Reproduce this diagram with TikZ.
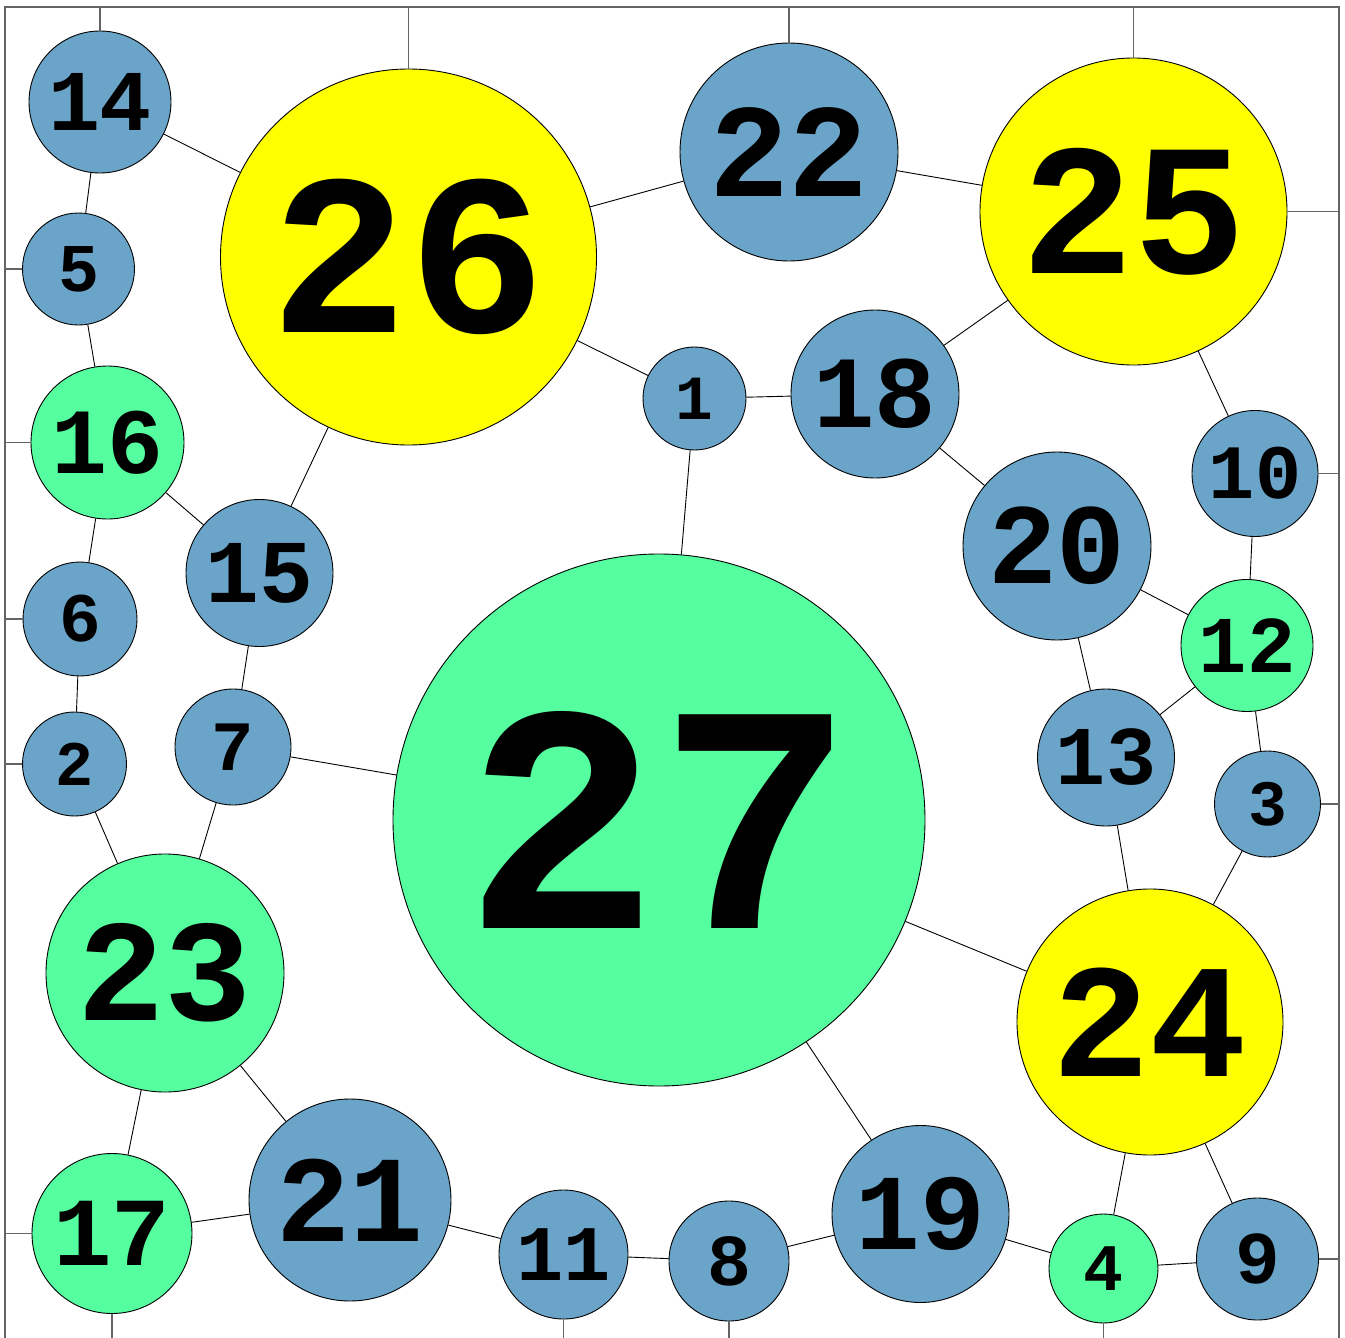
\documentclass[tikz,border=0pt]{standalone}
\usepackage{fontspec}
\newfontfamily\digitfont[BoldFont={Liberation Mono Bold}]{Liberation Mono}
\definecolor{nblue}{RGB}{107,164,201}
\definecolor{ngreen}{RGB}{85,255,160}
\definecolor{nyellow}{RGB}{255,255,0}
\definecolor{bgray}{RGB}{100,100,100}
\newcommand{\gnode}[5]{%
  \pgfmathsetmacro\myfs{1.22*#4}%
  \node[gn,fill=#5,minimum size=2*#4*1pt,font=\digitfont\bfseries\fontsize{\myfs pt}{\myfs pt}\selectfont] (n#1) at (#2,#3) {#1};}
\tikzset{
  gn/.style={circle,draw=black,line width=0.9pt,inner sep=0pt,text=black},
  link/.style={draw=black,line width=0.9pt},
  bound/.style={draw=bgray,line width=1.4pt},
}
\begin{document}
\begin{tikzpicture}[x=1pt,y=-1pt]
\useasboundingbox (0,0) rectangle (1345,1338);
\coordinate (T) at (0,7);
\coordinate (B) at (0,1342);
\coordinate (L) at (5,0);
\coordinate (R) at (1339,0);
\draw[bound] (5,7) rectangle (1339,1342);
% nodes
\gnode{14}{100}{102}{71}{nblue}
\gnode{26}{408.5}{257}{188}{nyellow}
\gnode{22}{789}{152}{109}{nblue}
\gnode{25}{1133.5}{211.5}{153.5}{nyellow}
\gnode{5}{78.5}{269}{56}{nblue}
\gnode{16}{107.5}{442.5}{76.5}{ngreen}
\gnode{1}{694.5}{398.5}{51.5}{nblue}
\gnode{18}{875}{394}{84}{nblue}
\gnode{10}{1255}{473.5}{63}{nblue}
\gnode{12}{1247}{645.5}{66}{ngreen}
\gnode{3}{1267.5}{804}{53}{nblue}
\gnode{20}{1057}{546}{94}{nblue}
\gnode{13}{1106}{757.5}{68.5}{nblue}
\gnode{15}{259.5}{573}{73.5}{nblue}
\gnode{6}{80}{619}{57}{nblue}
\gnode{2}{74.5}{764}{52}{nblue}
\gnode{7}{233}{747}{58}{nblue}
\gnode{27}{659}{820}{266}{ngreen}
\gnode{23}{165}{973}{119}{ngreen}
\gnode{24}{1150}{1022}{133}{nyellow}
\gnode{17}{112}{1233.5}{80}{ngreen}
\gnode{21}{350}{1200}{101}{nblue}
\gnode{11}{563.5}{1254.5}{64.5}{nblue}
\gnode{8}{729}{1261}{60}{nblue}
\gnode{19}{920.5}{1214}{88.5}{nblue}
\gnode{4}{1103.5}{1268.5}{54.5}{ngreen}
\gnode{9}{1257.5}{1259}{61}{nblue}
% links between nodes
\foreach \a/\b in {14/26,14/5,5/16,16/15,16/6,6/2,2/23,15/26,15/7,7/23,7/27,
  26/1,26/22,22/25,25/18,25/10,1/18,1/27,18/20,20/12,20/13,10/12,12/13,12/3,
  3/24,13/24,27/24,27/19,23/17,23/21,17/21,21/11,11/8,8/19,19/4,24/4,24/9,4/9}
  \draw[link] (n\a) -- (n\b);
% links to the frame
\foreach \n in {14,26,22,25} \draw[bound] (n\n.north) -- (n\n.north |- T);
\foreach \n in {25,10,3,9} \draw[bound] (n\n.east) -- (n\n.east -| R);
\foreach \n in {5,16,6,2,17} \draw[bound] (n\n.west) -- (n\n.west -| L);
\foreach \n in {17,11,8,4} \draw[bound] (n\n.south) -- (n\n.south |- B);
\end{tikzpicture}
\end{document}
